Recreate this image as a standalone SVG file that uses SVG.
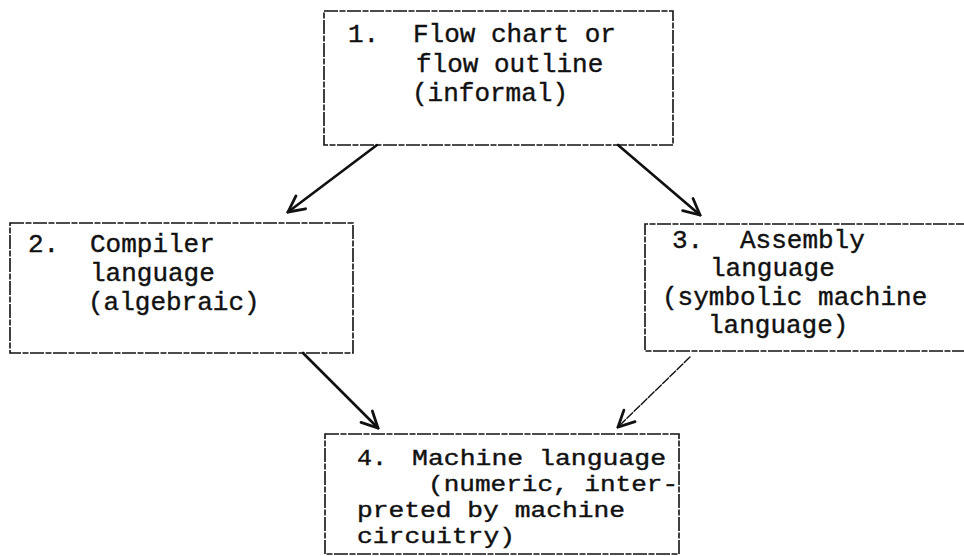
<svg xmlns="http://www.w3.org/2000/svg" width="964" height="556" viewBox="0 0 964 556">
<defs>
<style>
.box{fill:none;stroke:#111;stroke-width:1.6;stroke-dasharray:14 1.5 6 1.5}
.t{font-family:"Liberation Mono","DejaVu Sans Mono",monospace;font-size:26px;fill:#111;stroke:#111;stroke-width:0.4}
.s{font-size:22px}
.c{fill:none;stroke:#111;stroke-width:2.6;stroke-linecap:round}
.c.thin{stroke-width:1.4;stroke-dasharray:8 2}
</style>
<marker id="ah" viewBox="0 0 20 20" refX="18" refY="10" markerWidth="20" markerHeight="20" markerUnits="userSpaceOnUse" orient="auto">
<path d="M2,2 L18,10 L2,18" fill="none" stroke="#111" stroke-width="2.8" stroke-linecap="round"/>
</marker>
</defs>
<rect width="964" height="556" fill="#fff"/>
<g id="connectors">
<line class="c" x1="377" y1="145" x2="288" y2="212" marker-end="url(#ah)"/>
<line class="c" x1="618" y1="145" x2="700" y2="215" marker-end="url(#ah)"/>
<line class="c" x1="303" y1="353" x2="378" y2="428" marker-end="url(#ah)"/>
<line class="c thin" x1="690" y1="357" x2="618" y2="427" marker-end="url(#ah)"/>
</g>
<g id="node1">
<rect class="box" x="324" y="11" width="349" height="134"/>
<text class="t" x="348" y="42">1.</text>
<text class="t" x="413" y="42">Flow chart or</text>
<text class="t" x="416" y="72">flow outline</text>
<text class="t" x="412" y="101">(informal)</text>
</g>
<g id="node2">
<rect class="box" x="10" y="223" width="343" height="130"/>
<text class="t" x="28" y="252">2.</text>
<text class="t" x="90" y="252">Compiler</text>
<text class="t" x="90" y="281">language</text>
<text class="t" x="88" y="310">(algebraic)</text>
</g>
<g id="node3">
<path class="box" d="M970,224 L645,224 L645,351 L970,351"/>
<text class="t" x="672" y="248">3.</text>
<text class="t" x="740" y="248">Assembly</text>
<text class="t" x="710" y="276">language</text>
<text class="t" x="662" y="305">(symbolic machine</text>
<text class="t" x="708" y="333">language)</text>
</g>
<g id="node4">
<rect class="box" x="325" y="434" width="354" height="120"/>
<text class="t s" x="357" y="465" textLength="30" lengthAdjust="spacingAndGlyphs">4.</text>
<text class="t s" x="412" y="465" textLength="254" lengthAdjust="spacingAndGlyphs">Machine language</text>
<text class="t s" x="428" y="491" textLength="250" lengthAdjust="spacingAndGlyphs">(numeric, inter-</text>
<text class="t s" x="357" y="517" textLength="268" lengthAdjust="spacingAndGlyphs">preted by machine</text>
<text class="t s" x="357" y="543" textLength="158" lengthAdjust="spacingAndGlyphs">circuitry)</text>
</g>
</svg>
